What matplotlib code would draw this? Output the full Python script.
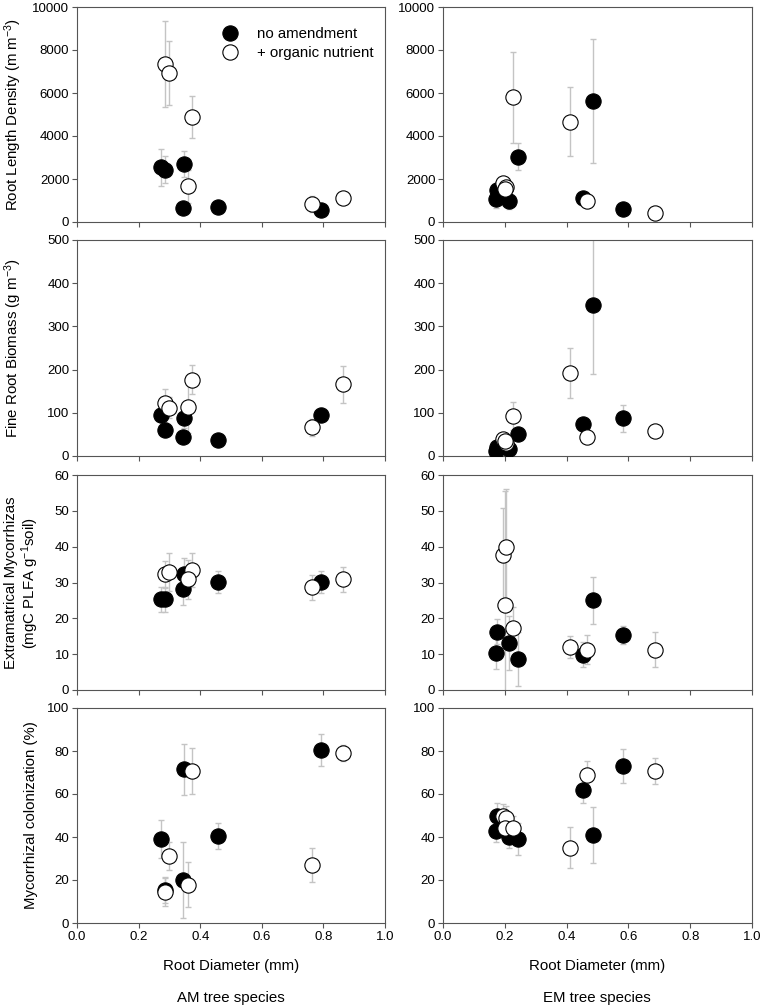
import numpy as np
import matplotlib.pyplot as plt

plt.rcParams['font.family'] = ['Liberation Sans', 'DejaVu Sans']
plt.rcParams['mathtext.default'] = 'regular'

# root diameter (mm) of each species, per treatment
am_diam_none = [0.273, 0.287, 0.347, 0.343, 0.459, 0.792]
am_diam_org = [0.285, 0.298, 0.373, 0.360, 0.762, 0.864]
em_diam_none = [0.175, 0.173, 0.213, 0.242, 0.452, 0.487, 0.583]
em_diam_org = [0.194, 0.203, 0.201, 0.228, 0.410, 0.466, 0.685]

# root length density (m m-3)
rld_am_none = [2535, 2427, 2690, 650, 695, 572]
rld_am_none_se = [870, 620, 600, 150, 150, 120]
rld_am_org = [7372, 6940, 4900, 1654, 850, 1113]
rld_am_org_se = [2000, 1500, 980, 750, 370, 250]
rld_em_none = [1500, 1060, 1000, 3045, 1113, 5626, 603]
rld_em_none_se = [300, 400, 400, 620, 150, 2900, 100]
rld_em_org = [1830, 1620, 1550, 5796, 4668, 958, 417]
rld_em_org_se = [200, 300, 200, 2100, 1590, 150, 100]

# fine root biomass (g m-3)
frb_am_none = [94, 61, 89, 45, 38, 96]
frb_am_none_se = [25, 18, 25, 8, 5, 15]
frb_am_org = [122, 112, 177, 114, 66, 166]
frb_am_org_se = [32, 25, 34, 60, 20, 43]
frb_em_none = [20, 12, 16, 51, 73, 350, 87]
frb_em_none_se = [8, 6, 8, 10, 10, 160, 32]
frb_em_org = [39, 31, 35, 93, 193, 43, 58]
frb_em_org_se = [8, 6, 6, 33, 58, 8, 6]

# extramatrical mycorrhizas (mgC PLFA g-1 soil)
emm_am_none = [25.3, 25.3, 32.3, 28.1, 30.2, 30.2]
emm_am_none_se = [3.5, 3.5, 4.4, 4.5, 3.0, 3.0]
emm_am_org = [32.3, 32.9, 33.4, 30.9, 28.7, 30.9]
emm_am_org_se = [3.7, 5.2, 4.7, 5.5, 3.5, 3.5]
emm_em_none = [16.2, 10.2, 13.2, 8.6, 9.9, 25.0, 15.3]
emm_em_none_se = [3.5, 4.2, 7.5, 7.5, 3.5, 6.5, 2.5]
emm_em_org = [37.8, 40.0, 23.6, 17.4, 12.0, 11.3, 11.3]
emm_em_org_se = [13, 16, 32, 5.8, 3.0, 4.0, 4.9]

# mycorrhizal colonization (%)
col_am_none = [39.1, 15.5, 71.4, 20.1, 40.5, 80.4]
col_am_none_se = [8.8, 6.0, 12.0, 17.8, 6.2, 7.6]
col_am_org = [14.4, 31.2, 70.8, 17.8, 27.0, 79.1]
col_am_org_se = [6.5, 6.7, 10.6, 10.5, 7.8, 3.7]
col_em_none = [50, 43, 40, 39, 62, 41, 73]
col_em_none_se = [6, 5.5, 5, 7.5, 6.3, 13, 7.7]
col_em_org = [50, 49, 44, 44, 35, 69, 70.8]
col_em_org_se = [5.5, 5.5, 5, 6, 9.5, 6.5, 6]

ylabels = ['Root Length Density (m m$^{-3}$)',
           'Fine Root Biomass (g m$^{-3}$)',
           'Extramatrical Mycorrhizas\n(mgC PLFA g$^{-1}$soil)',
           'Mycorrhizal colonization (%)']
ymaxes = [10000, 500, 60, 100]
ysteps = [2000, 100, 10, 20]
label_x = [-0.172, -0.172, -0.118, -0.127]

rows = [
    ((rld_am_none, rld_am_none_se, rld_am_org, rld_am_org_se),
     (rld_em_none, rld_em_none_se, rld_em_org, rld_em_org_se)),
    ((frb_am_none, frb_am_none_se, frb_am_org, frb_am_org_se),
     (frb_em_none, frb_em_none_se, frb_em_org, frb_em_org_se)),
    ((emm_am_none, emm_am_none_se, emm_am_org, emm_am_org_se),
     (emm_em_none, emm_em_none_se, emm_em_org, emm_em_org_se)),
    ((col_am_none, col_am_none_se, col_am_org, col_am_org_se),
     (col_em_none, col_em_none_se, col_em_org, col_em_org_se)),
]
diams = [(am_diam_none, am_diam_org), (em_diam_none, em_diam_org)]

W, H = 762, 1008
fig = plt.figure(figsize=(W / 100, H / 100), dpi=100)

col_left = [77, 443]
col_width = [308, 309]
row_top = [7, 240, 475, 708]
row_h = [215, 216, 215, 215]

spine_col = '#555555'
err_col = '#c4c4c4'

for r in range(4):
    for c in range(2):
        ax = fig.add_axes([col_left[c] / W, 1 - (row_top[r] + row_h[r]) / H,
                           col_width[c] / W, row_h[r] / H])
        y_none, se_none, y_org, se_org = rows[r][c]
        x_none, x_org = diams[c]

        # error bars first, behind every circle
        ax.errorbar(x_none, y_none, yerr=se_none, fmt='none', ecolor=err_col,
                    elinewidth=1, capsize=2.5, capthick=1, zorder=1)
        ax.errorbar(x_org, y_org, yerr=se_org, fmt='none', ecolor=err_col,
                    elinewidth=1, capsize=2.5, capthick=1, zorder=1)
        ax.plot(x_none, y_none, 'o', ms=11, mfc='black', mec='black',
                mew=0.8, ls='none', zorder=3, label='no amendment')
        ax.plot(x_org, y_org, 'o', ms=11, mfc='white', mec='black',
                mew=0.8, ls='none', zorder=4, label='+ organic nutrient')

        ax.set_xlim(0, 1)
        ax.set_ylim(0, ymaxes[r])
        ax.set_xticks(np.arange(0, 1.01, 0.2))
        ax.set_yticks(np.arange(0, ymaxes[r] + 1, ysteps[r]))
        ax.tick_params(direction='out', length=3.5, width=0.8,
                       color=spine_col, labelsize=9.5, pad=2)
        for s in ax.spines.values():
            s.set_color(spine_col)
            s.set_linewidth(0.8)
        if r < 3:
            ax.set_xticklabels([])
        else:
            ax.set_xticklabels(['%.1f' % v for v in np.arange(0, 1.01, 0.2)])
            ax.set_xlabel('Root Diameter (mm)', fontsize=10.8, labelpad=12)
        if c == 0:
            ax.set_ylabel(ylabels[r], fontsize=10.8, linespacing=1.05)
            ax.yaxis.set_label_coords(label_x[r], 0.5)
        if r == 0 and c == 0:
            ax.legend(loc='upper left', bbox_to_anchor=(0.43, 0.935),
                      frameon=False, fontsize=10.8, handletextpad=0.75,
                      labelspacing=0.35, borderaxespad=0)

fig.text((77 + 154) / W, 1 - 998 / H, 'AM tree species', ha='center',
         va='center', fontsize=10.8)
fig.text((443 + 154) / W, 1 - 998 / H, 'EM tree species', ha='center',
         va='center', fontsize=10.8)

fig.savefig('out.png', dpi=100)
